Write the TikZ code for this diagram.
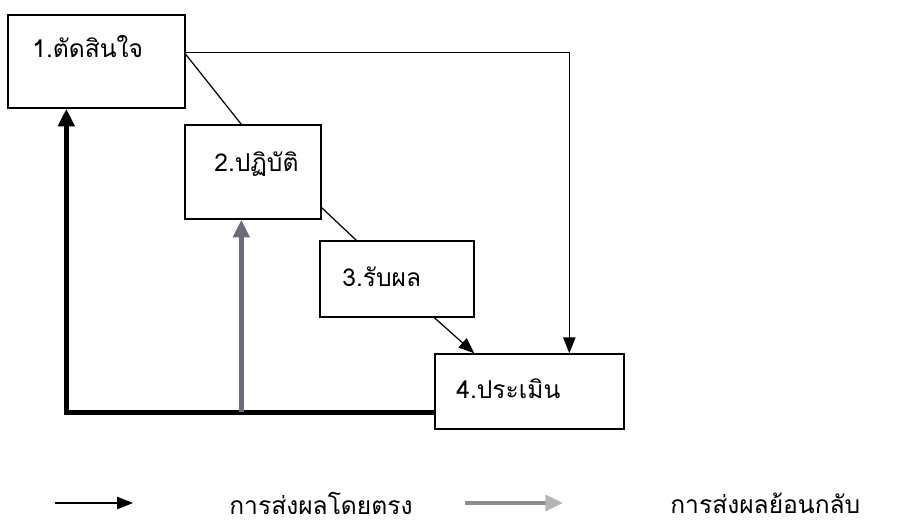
\documentclass[tikz,border=0pt]{standalone}
\usepackage{fontspec}
\newfontfamily\thaifont[Script=Thai]{Loma}
\usetikzlibrary{arrows.meta,positioning}
\definecolor{backgray}{HTML}{6E6A7C}
\definecolor{legendgray}{HTML}{8C8C8C}
\definecolor{legendhead}{HTML}{B4B4B4}
\tikzset{
        % Step boxes
        stepbox/.style={rectangle, draw=black, line width=0.8pt, fill=white, inner sep=0pt},
        % Box texts
        steptext/.style={anchor=west, inner sep=0pt, font=\thaifont\fontsize{14}{16}\selectfont},
        % Direct effect
        direct/.style={draw=black, line width=0.7pt},
        direct_arrow/.style={direct, -{Triangle[length=9pt, width=7pt]}},
        % Feedback
        feedback/.style={draw=black, line width=2.8pt},
        feedback_arrow/.style={feedback, -{Triangle[length=10pt, width=9pt]}},
        feedback_gray/.style={draw=backgray, line width=2.8pt, -{Triangle[length=10pt, width=9pt]}}
}
\begin{document}
\begin{tikzpicture}[x=0.02cm, y=-0.02cm]
    \useasboundingbox (0,0) rectangle (904,526);
        % Boxes
        \node[stepbox, minimum width=3.54cm, minimum height=1.86cm] (decide) at (96.5,61.5) {};
        \node[stepbox, minimum width=2.72cm, minimum height=1.88cm] (act) at (253,172) {};
        \node[stepbox, minimum width=3.08cm, minimum height=1.52cm] (result) at (397,279) {};
        \node[stepbox, minimum width=3.78cm, minimum height=1.50cm] (assess) at (529.5,391.5) {};
        \node[steptext] (decide_text) at (32,47) {1.ตัดสินใจ};
        \node[steptext] (act_text) at (214,164) {2.ปฏิบัติ};
        \node[steptext] (result_text) at (342,277) {3.รับผล};
        \node[steptext] (assess_text) at (456,389) {4.ประเมิน};
        % Direct effects
        \draw[direct] ([shift={(0,40)}]decide.north east) -- ([shift={(57,0)}]act.north west);
        \draw[direct] ([shift={(0,-12)}]act.south east) -- ([shift={(37,0)}]result.north west);
        \draw[direct_arrow] ([shift={(115,0)}]result.south west) -- ([shift={(40,0)}]assess.north west);
        \draw[direct_arrow] ([shift={(0,38)}]decide.north east) -| ([shift={(135,0)}]assess.north west);
        % Feedback
        \coordinate (fb_corner) at ([shift={(57,0)}]act.south west |- 0,412);
        \draw[feedback_arrow] ([shift={(0,-17)}]assess.south west) -| ([shift={(59,0)}]decide.south west);
        \draw[feedback_gray] (fb_corner) -- ([shift={(57,0)}]act.south west);
        % Legend
        \coordinate (leg_a) at (55,503);
        \coordinate (leg_b) at (133,503);
        \coordinate (leg_c) at (465,503);
        \coordinate (leg_d) at (563,503);
        \draw[direct_arrow] (leg_a) -- (leg_b);
        \node[steptext] (leg_direct) at (229,503) {การส่งผลโดยตรง};
        \draw[draw=legendgray, line width=2.2pt, -{Triangle[length=10pt, width=9pt, color=legendhead]}] (leg_c) -- (leg_d);
        \node[steptext] (leg_back) at (670,503) {การส่งผลย้อนกลับ};
\end{tikzpicture}
\end{document}
